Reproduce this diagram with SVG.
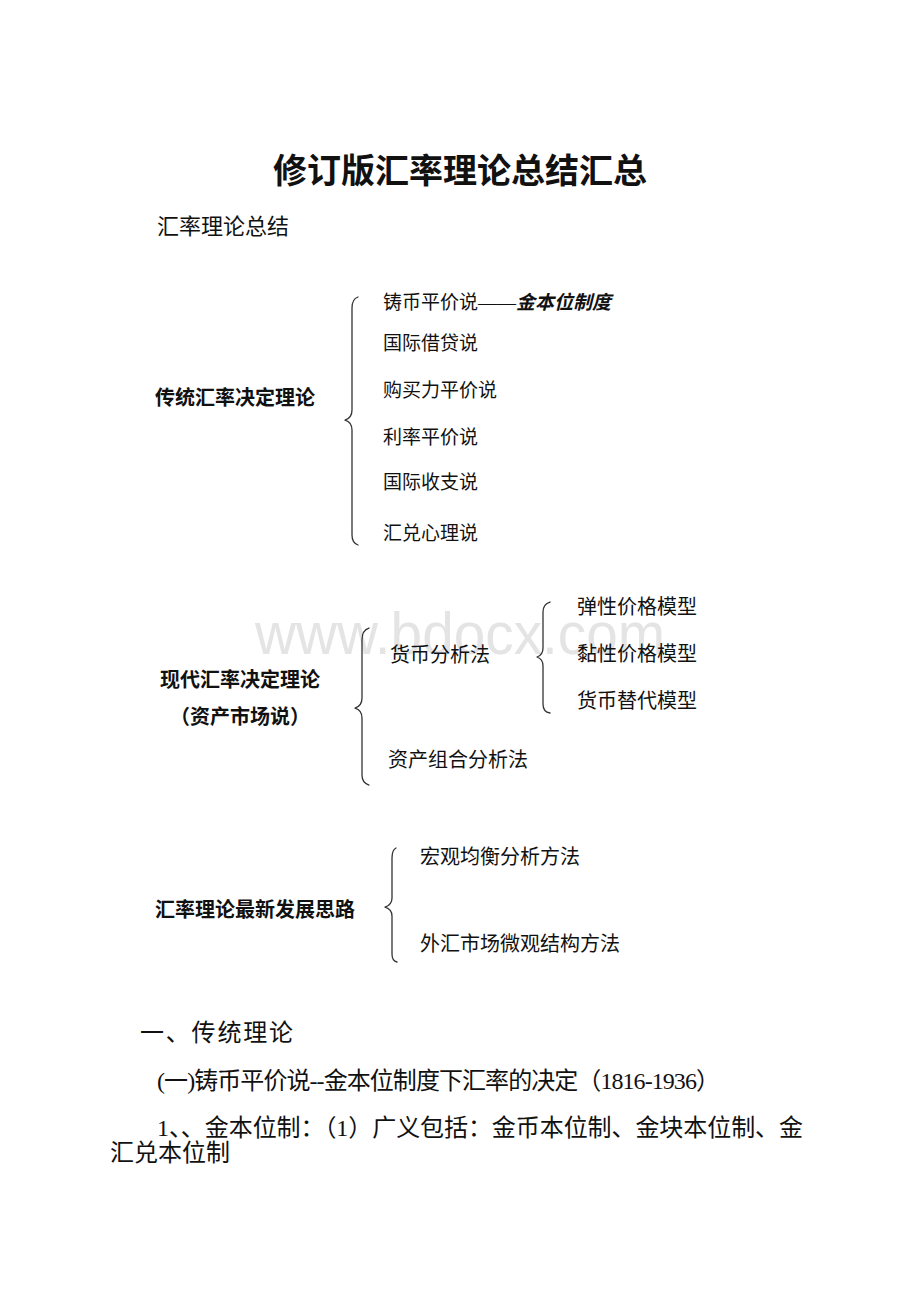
<svg xmlns="http://www.w3.org/2000/svg" width="920" height="1302" viewBox="0 0 920 1302">
<style>
.t{font-family:"Liberation Serif","Noto Sans CJK SC",serif;fill:#111;}
.b{font-weight:bold;}
.s19{font-size:19px;}
.s20{font-size:20px;}
.brace{fill:none;stroke:#333;stroke-width:1.3;stroke-linecap:round;stroke-linejoin:round;}
.wm{font-family:"Liberation Sans",Arial,sans-serif;font-size:60px;fill:#e4e4e4;}
</style>
<rect width="920" height="1302" fill="#fff"/>
<text class="wm" x="255" y="654" textLength="410" lengthAdjust="spacingAndGlyphs">www.bdocx.com</text>
<g id="title"><text class="t b" x="460" y="183" font-size="34" text-anchor="middle">修订版汇率理论总结汇总</text></g>
<g id="subtitle"><text class="t" x="157" y="234" font-size="22">汇率理论总结</text></g>
<g id="connectors">
<path class="brace" d="M358,297 Q352,299 352,308 L352,410 Q352,418 345,420 Q352,422 352,430 L352,535 Q352,543 358,545"/>
<path class="brace" d="M369,628 Q362,630 362,640 L362,698 Q362,706 355,708 Q362,710 362,718 L362,775 Q362,783 369,785"/>
<path class="brace" d="M550,602 Q543,604 543,612 L543,648 Q543,655 537,657 Q543,659 543,666 L543,704 Q543,712 550,713"/>
<path class="brace" d="M396,848 Q392,850 392,858 L392,898 Q392,905 385,907 Q392,909 392,916 L392,954 Q392,961 397,962"/>
</g>
<g id="n-traditional"><text class="t b s20" x="155" y="405">传统汇率决定理论</text></g>
<g id="n-mint"><text class="t s19" x="383" y="309">铸币平价说——<tspan font-style="italic" font-weight="bold">金本位制度</tspan></text></g>
<g id="n-loan"><text class="t s19" x="383" y="350">国际借贷说</text></g>
<g id="n-ppp"><text class="t s19" x="383" y="397">购买力平价说</text></g>
<g id="n-irp"><text class="t s19" x="383" y="444">利率平价说</text></g>
<g id="n-bop"><text class="t s19" x="383" y="489">国际收支说</text></g>
<g id="n-psych"><text class="t s19" x="383" y="540">汇兑心理说</text></g>
<g id="n-modern"><text class="t b s20" x="160" y="687">现代汇率决定理论</text><text class="t b s20" x="240" y="724" text-anchor="middle">（资产市场说）</text></g>
<g id="n-monetary"><text class="t s20" x="390" y="662">货币分析法</text></g>
<g id="n-portfolio"><text class="t s20" x="388" y="767">资产组合分析法</text></g>
<g id="n-flex"><text class="t s20" x="577" y="614">弹性价格模型</text></g>
<g id="n-sticky"><text class="t s20" x="577" y="661">黏性价格模型</text></g>
<g id="n-subst"><text class="t s20" x="577" y="708">货币替代模型</text></g>
<g id="n-latest"><text class="t b s20" x="155" y="917">汇率理论最新发展思路</text></g>
<g id="n-macro"><text class="t s20" x="420" y="864">宏观均衡分析方法</text></g>
<g id="n-micro"><text class="t s20" x="420" y="951">外汇市场微观结构方法</text></g>
<g id="body">
<text class="t" x="140" y="1041" font-size="24" textLength="153" lengthAdjust="spacing">一、传统理论</text>
<text class="t" x="157" y="1089" font-size="24" textLength="563" lengthAdjust="spacing">(一)铸币平价说--金本位制度下汇率的决定（1816-1936）</text>
<text class="t" x="157" y="1136" font-size="24" textLength="646" lengthAdjust="spacing">1、、金本位制：（1）广义包括：金币本位制、金块本位制、金</text>
<text class="t" x="110" y="1161" font-size="24">汇兑本位制</text>
</g>
</svg>
